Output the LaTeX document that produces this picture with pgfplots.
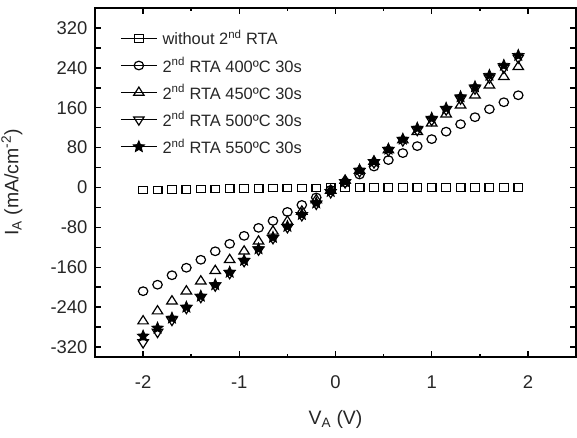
\documentclass[border=0pt]{standalone}
\usepackage{fontspec}
\setmainfont{Liberation Sans}
\usepackage{pgfplots}
\pgfplotsset{compat=1.18}
\usepackage{pgfplotstable}

\pgfdeclareplotmark{fstar}{%
  \pgfpathmoveto{\pgfpointpolar{90}{\pgfplotmarksize}}%
  \pgfpathlineto{\pgfpointpolar{126}{0.45\pgfplotmarksize}}%
  \pgfpathlineto{\pgfpointpolar{162}{\pgfplotmarksize}}%
  \pgfpathlineto{\pgfpointpolar{198}{0.45\pgfplotmarksize}}%
  \pgfpathlineto{\pgfpointpolar{234}{\pgfplotmarksize}}%
  \pgfpathlineto{\pgfpointpolar{270}{0.45\pgfplotmarksize}}%
  \pgfpathlineto{\pgfpointpolar{306}{\pgfplotmarksize}}%
  \pgfpathlineto{\pgfpointpolar{342}{0.45\pgfplotmarksize}}%
  \pgfpathlineto{\pgfpointpolar{18}{\pgfplotmarksize}}%
  \pgfpathlineto{\pgfpointpolar{54}{0.45\pgfplotmarksize}}%
  \pgfpathclose
  \pgfusepathqfillstroke
}

\pgfplotstableread{
x y
-2 -5
-1.85 -5
-1.7 -4
-1.55 -4
-1.4 -3
-1.25 -3
-1.1 -2
-0.95 -2
-0.8 -2
-0.65 -1
-0.5 -1
-0.35 -1
-0.2 -1
-0.05 0
0.1 0
0.25 0
0.4 0
0.55 0
0.7 0
0.85 0
1.0 0
1.15 0
1.3 0
1.45 0
1.6 0
1.75 0
1.9 0
}\tnone
\pgfplotstableread{
x y
-2 -208
-1.85 -195
-1.7 -176
-1.55 -161
-1.4 -145
-1.25 -128
-1.1 -113
-0.95 -97
-0.8 -81
-0.65 -67
-0.5 -49
-0.35 -35
-0.2 -20
-0.05 -5
0.1 10
0.25 26
0.4 42
0.55 55
0.7 69
0.85 83
1.0 97
1.15 112
1.3 127
1.45 141
1.6 157
1.75 171
1.9 185
}\tfour
\pgfplotstableread{
x y
-2 -268
-1.85 -248
-1.7 -228
-1.55 -208
-1.4 -188
-1.25 -167
-1.1 -145
-0.95 -128
-0.8 -108
-0.65 -88
-0.5 -68
-0.35 -48
-0.2 -25
-0.05 -6
0.1 14
0.25 34
0.4 52
0.55 75
0.7 95
0.85 112
1.0 129
1.15 147
1.3 165
1.45 185
1.6 205
1.75 222
1.9 242
}\tfive
\pgfplotstableread{
x y
-2 -311
-1.85 -290
-1.7 -266
-1.55 -242
-1.4 -220
-1.25 -197
-1.1 -172
-0.95 -148
-0.8 -125
-0.65 -102
-0.5 -80
-0.35 -56
-0.2 -33
-0.05 -10
0.1 10
0.25 32
0.4 50
0.55 74
0.7 94
0.85 115
1.0 135
1.15 156
1.3 178
1.45 198
1.6 220
1.75 240
1.9 260
}\tsix
\pgfplotstableread{
x y
-2 -298
-1.85 -282
-1.7 -262
-1.55 -240
-1.4 -218
-1.25 -195
-1.1 -170
-0.95 -146
-0.8 -123
-0.65 -100
-0.5 -78
-0.35 -54
-0.2 -31
-0.05 -8
0.1 12
0.25 35
0.4 52
0.55 77
0.7 97
0.85 119
1.0 139
1.15 159
1.3 182
1.45 202
1.6 225
1.75 245
1.9 265
}\tseven

\begin{document}
\begin{tikzpicture}
\useasboundingbox (-95bp,-81bp) rectangle (482bp,357bp);
\begin{axis}[
  at={(0,0)}, anchor=south west,
  scale only axis, width=481bp, height=349bp,
  xmin=-2.5, xmax=2.5, ymin=-340, ymax=360,
  axis line style={line width=2bp},
  tick style={line width=1.5bp, black},
  major tick length=6bp, minor tick length=3bp,
  tick align=inside,
  xtick={-2,-1,0,1,2},
  xticklabels={-2,-1,0,1,2},
  minor xtick={-1.5,-0.5,0.5,1.5},
  ytick={-320,-280,...,360},
  yticklabels={-320,,-240,,-160,,-80,,0,,80,,160,,240,,320,},
  ticklabel style={font=\fontsize{18.5}{22}\selectfont, text=black!85},
  xticklabel style={yshift=-15bp},
  yticklabel style={xshift=-4bp},
  xlabel={V\textsubscript{A} (V)},
  ylabel={I\textsubscript{A} (mA/cm\textsuperscript{-2})},
  label style={font=\fontsize{19.5}{23}\selectfont, text=black!85},
  xlabel style={at={(axis description cs:0.5,-0.178)}, anchor=center},
  ylabel style={at={(axis description cs:-0.1726,0.5)}, anchor=center},
  legend style={at={(axis description cs:0.052,0.945)}, anchor=north west,
    draw=none, fill=none, font=\fontsize{16.5}{19}\selectfont, text=black!85,
    row sep=5bp, inner sep=0pt, nodes={inner ysep=3bp, inner xsep=5bp}},
  legend cell align=left,
  legend image code/.code={\draw[#1, sharp plot, mark repeat=2, mark phase=2, line width=1.3bp] plot coordinates {(0bp,0bp) (18bp,0bp) (36bp,0bp)};},
]
\addplot[only marks, black, mark=square, mark size=3.8bp, mark options={line width=1.3bp, xscale=1.15}] table {\tnone};
\addlegendentry{without 2\textsuperscript{nd} RTA}
\addplot[only marks, black, mark=o, mark size=4.3bp, mark options={line width=1.2bp, xscale=1.1}] table {\tfour};
\addlegendentry{2\textsuperscript{nd} RTA 400ºC 30s}
\addplot[only marks, black, mark=triangle, mark size=5.5bp, mark options={line width=1.2bp, xscale=1.1}] table {\tfive};
\addlegendentry{2\textsuperscript{nd} RTA 450ºC 30s}
\addplot[only marks, black, mark=triangle, mark size=5.5bp, mark options={line width=1.2bp, rotate=180, xscale=1.1}] table {\tsix};
\addlegendentry{2\textsuperscript{nd} RTA 500ºC 30s}
\addplot[only marks, black, mark=fstar, mark size=6bp, mark options={line width=0.8bp, fill=black}] table {\tseven};
\addlegendentry{2\textsuperscript{nd} RTA 550ºC 30s}
\end{axis}
\end{tikzpicture}
\end{document}
